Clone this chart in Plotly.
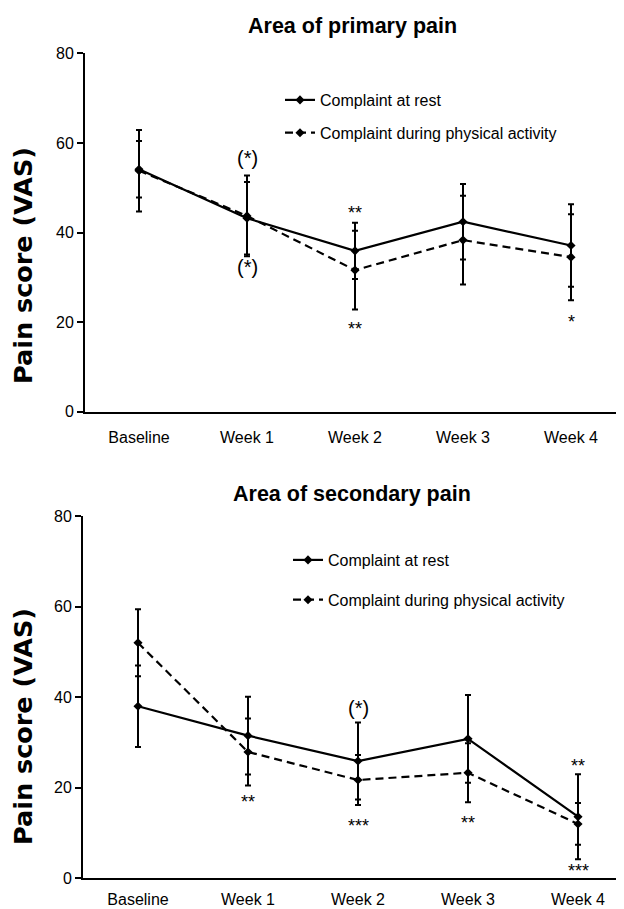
import plotly.graph_objects as go

categories = ["Baseline", "Week 1", "Week 2", "Week 3", "Week 4"]
y_ticks = [0, 20, 40, 60, 80]

# Area of primary pain
prim_rest = [54.1, 43.2, 35.9, 42.4, 37.1]
prim_rest_err = [6.3, 8.1, 6.3, 8.4, 9.2]
prim_act = [53.8, 43.7, 31.6, 38.3, 34.5]
prim_act_err = [9.1, 9.0, 8.8, 9.9, 9.6]

# Area of secondary pain
sec_rest = [38.0, 31.5, 25.9, 30.8, 13.6]
sec_rest_err = [9.0, 8.6, 8.5, 9.7, 9.4]
sec_act = [52.0, 27.9, 21.7, 23.3, 12.0]
sec_act_err = [7.4, 7.4, 5.5, 6.5, 4.6]

# significance labels: (category, y, text)
prim_sig_cat = ["Week 1", "Week 1", "Week 2", "Week 2", "Week 4"]
prim_sig_y = [56.6, 32.3, 44.4, 18.4, 20.0]
prim_sig_txt = ["(*)", "(*)", "**", "**", "*"]
sec_sig_cat = ["Week 1", "Week 2", "Week 2", "Week 3", "Week 4", "Week 4"]
sec_sig_y = [16.9, 37.6, 11.6, 12.2, 24.9, 1.7]
sec_sig_txt = ["**", "(*)", "***", "**", "**", "***"]

W, H = 624, 909
OFF = 8  # page body margin of the html page
FONT = "Liberation Sans, Arial, sans-serif"


def px(x):
    return (x - OFF) / W


def py(y):
    return 1 - (y - OFF) / H


fig = go.Figure()


def add_series(y, err, dash, name, xa, ya, legend, group):
    fig.add_trace(go.Scatter(
        x=categories, y=y, name=name, mode="lines+markers",
        line=dict(color="black", width=2.2, dash=dash),
        marker=dict(symbol="diamond", size=7, color="black"),
        error_y=dict(type="data", array=err, visible=True, color="black",
                     thickness=2, width=3),
        xaxis=xa, yaxis=ya, legend=legend, legendgroup=group,
    ))


add_series(prim_rest, prim_rest_err, "solid", "Complaint at rest", "x", "y", "legend", "a")
add_series(prim_act, prim_act_err, "8px,5px", "Complaint during physical activity", "x", "y", "legend", "b")
add_series(sec_rest, sec_rest_err, "solid", "Complaint at rest", "x2", "y2", "legend2", "c")
add_series(sec_act, sec_act_err, "8px,5px", "Complaint during physical activity", "x2", "y2", "legend2", "d")


def sig_size(t):
    return 20 if t.startswith("(") else 18


ann = []
for c, yv, t in zip(prim_sig_cat, prim_sig_y, prim_sig_txt):
    ann.append(dict(x=c, y=yv, xref="x", yref="y", text=t, showarrow=False,
                    xanchor="center", yanchor="middle",
                    font=dict(size=sig_size(t), color="black", family=FONT)))
for c, yv, t in zip(sec_sig_cat, sec_sig_y, sec_sig_txt):
    ann.append(dict(x=c, y=yv, xref="x2", yref="y2", text=t, showarrow=False,
                    xanchor="center", yanchor="middle",
                    font=dict(size=sig_size(t), color="black", family=FONT)))

# titles
ann.append(dict(x=px(352), y=py(26), xref="paper", yref="paper", text="<b>Area of primary pain</b>",
                xanchor="center", yanchor="middle",
                showarrow=False, font=dict(size=21.5, color="black", family=FONT)))
ann.append(dict(x=px(352), y=py(494), xref="paper", yref="paper", text="<b>Area of secondary pain</b>",
                xanchor="center", yanchor="middle",
                showarrow=False, font=dict(size=21.5, color="black", family=FONT)))
YT_FONT = "DejaVu Sans, Liberation Sans, sans-serif"
ann.append(dict(x=px(23), y=py(266), xref="paper", yref="paper", text="<b>Pain score (VAS)</b>",
                xanchor="center", yanchor="middle",
                textangle=-90, showarrow=False, font=dict(size=25.5, color="black", family=YT_FONT)))
ann.append(dict(x=px(23), y=py(727), xref="paper", yref="paper", text="<b>Pain score (VAS)</b>",
                xanchor="center", yanchor="middle",
                textangle=-90, showarrow=False, font=dict(size=25.5, color="black", family=YT_FONT)))

xcommon = dict(type="category", showline=True, linecolor="black", linewidth=2,
               showgrid=False, zeroline=False, ticks="outside", tickcolor="rgba(0,0,0,0)",
               tickfont=dict(size=16, color="black", family=FONT), fixedrange=True,
               automargin=False)
ycommon = dict(range=[0, 80], tickvals=y_ticks, showline=True, linecolor="black", linewidth=2,
               showgrid=False, zeroline=False, ticks="outside", ticklen=6, tickwidth=1.5,
               tickcolor="black", tickfont=dict(size=16, color="black", family=FONT),
               automargin=False)

# category spacing: 108 px (top), 110 px (bottom)
top_left, bot_left = 85, 83
top_span = (W + OFF - top_left) / 108.0
bot_span = (W + OFF - bot_left) / 110.0

fig.update_layout(
    width=W, height=H,
    margin=dict(l=0, r=0, t=0, b=0, pad=0, autoexpand=False),
    paper_bgcolor="white", plot_bgcolor="white",
    font=dict(family=FONT, color="black"),
    annotations=ann,
    xaxis=dict(xcommon, domain=[px(top_left), 1.0], range=[-0.5, -0.5 + top_span], anchor="y", ticklen=10),
    yaxis=dict(ycommon, domain=[py(411.7), py(53.3)], anchor="x"),
    xaxis2=dict(xcommon, domain=[px(bot_left), 1.0], range=[-0.5, -0.5 + bot_span], anchor="y2", ticklen=5),
    yaxis2=dict(ycommon, domain=[py(878.3), py(516)], anchor="x2"),
    legend=dict(x=px(280), y=py(83), xanchor="left", yanchor="top",
                font=dict(size=16, color="black", family=FONT), tracegroupgap=9,
                bgcolor="rgba(0,0,0,0)"),
    legend2=dict(x=px(288), y=py(543), xanchor="left", yanchor="top",
                 font=dict(size=16, color="black", family=FONT), tracegroupgap=16,
                 bgcolor="rgba(0,0,0,0)"),
)

fig.write_html("out.html")
